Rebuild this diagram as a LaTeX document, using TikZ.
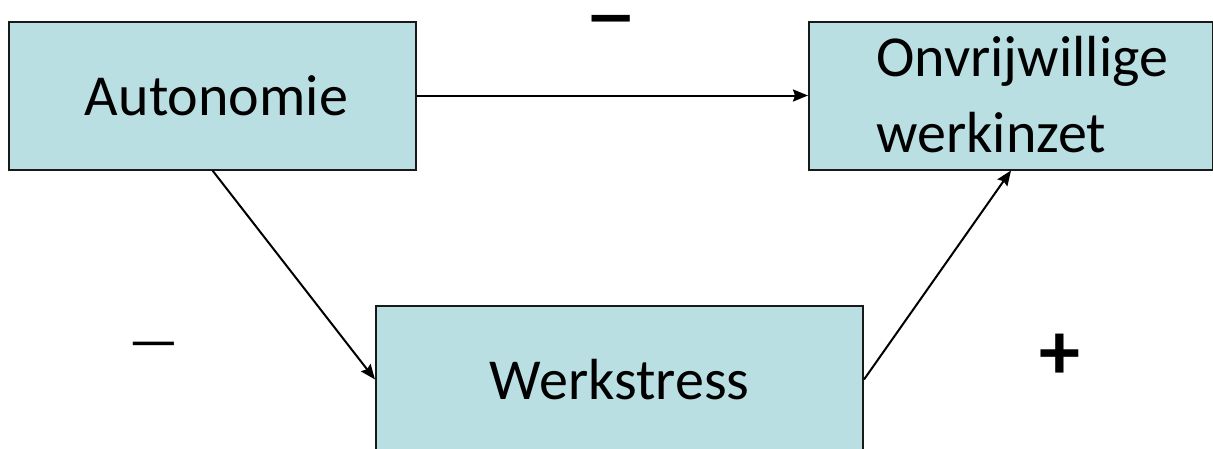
\documentclass[tikz,border=0pt]{standalone}
\usepackage{fontspec}
\setmainfont{Carlito}
\usetikzlibrary{arrows.meta}
\definecolor{boxfill}{RGB}{185,223,227}
\begin{document}
\begin{tikzpicture}[x=1pt,y=-1pt,
  box/.style={draw=black!90,line width=2pt,fill=boxfill,inner sep=0pt,
    font=\fontsize{58}{76}\selectfont},
  conn/.style={line width=2pt,-{Stealth[length=15pt,width=12pt,inset=2pt]}},
  sign/.style={inner sep=0pt,anchor=north}]
\useasboundingbox (0,0) rectangle (1213,448);
\clip (0,0) rectangle (1213,448);
\node[box,minimum width=407pt,minimum height=148pt] (auto) at (212.5,95.5) {\hspace*{8pt}Autonomie};
\node[box,minimum width=404pt,minimum height=148pt] (onv) at (1011,95.5) {};
\node[inner sep=0pt,anchor=west,align=left,font=\fontsize{58}{76}\selectfont] (onvtext) at (876,95) {Onvrijwillige\\werkinzet};
\node[box,minimum width=487pt,minimum height=148pt] (stress) at (619.5,379.5) {Werkstress};
\draw[conn] (auto.east) -- (onv.west);
\draw[conn] (auto.south) -- (stress.west);
\draw[conn] (stress.east) -- (onv.south);
\node[sign,font=\fontsize{107}{107}\selectfont] (sminus) at (611.5,15) {–};
\node[sign,font=\fontsize{56}{56}\selectfont] (sdash) at (153.5,342) {—};
\node[sign,font=\bfseries\fontsize{82}{82}\selectfont] (splus) at (1059.5,334) {+};
\end{tikzpicture}
\end{document}
